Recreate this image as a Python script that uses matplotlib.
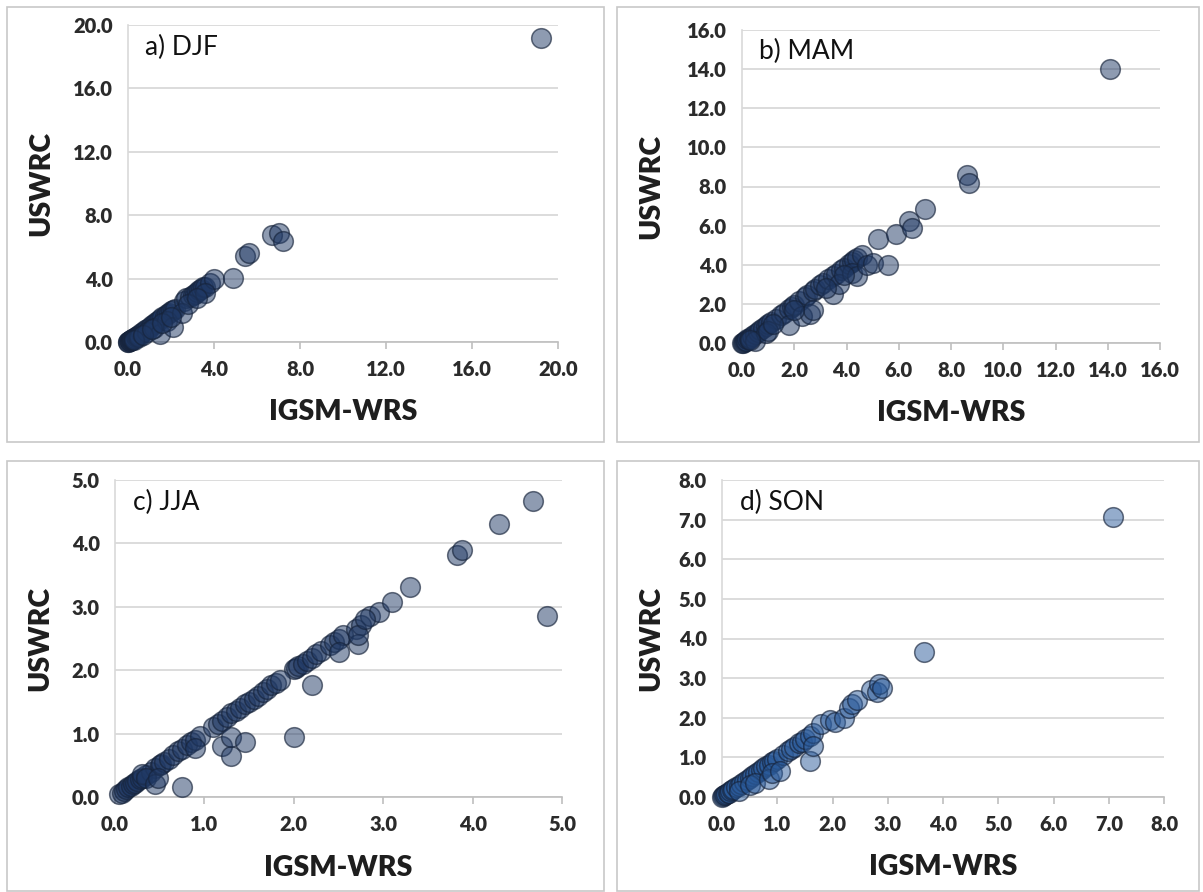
import numpy as np
import matplotlib
matplotlib.use("Agg")
import matplotlib.pyplot as plt
from matplotlib.patches import Rectangle
from matplotlib.ticker import FormatStrFormatter

plt.rcParams['font.family'] = ['Lato', 'DejaVu Sans']

# ---- data (IGSM-WRS vs USWRC) ----
djf_igsm = [0.0, 0.02, 0.05, 0.08, 0.1, 0.12, 0.15, 0.18, 0.2, 0.25, 0.3, 0.35, 0.4, 0.45, 0.5,
            0.6, 0.7, 0.8, 0.9, 1.0, 1.1, 1.2, 1.3, 1.4, 1.5, 1.6, 1.7, 1.8, 1.9, 2.0,
            2.1, 2.2, 2.6, 2.7, 2.9, 3.0, 3.1, 3.2, 3.3, 3.4, 3.5, 3.6, 3.8, 4.0,
            0.5, 0.9, 1.2, 1.5, 1.8, 2.1, 2.5, 3.6, 4.9, 5.45, 5.65, 6.7, 7.0, 7.2, 19.2,
            0.3, 0.7, 1.1, 1.6, 2.0, 2.8, 3.2]
djf_uswrc = [0.0, 0.01, 0.04, 0.06, 0.09, 0.1, 0.13, 0.15, 0.18, 0.22, 0.27, 0.3, 0.36, 0.4, 0.45,
             0.55, 0.65, 0.75, 0.85, 0.95, 1.05, 1.15, 1.25, 1.35, 1.45, 1.55, 1.65, 1.75, 1.85, 1.95,
             2.05, 2.1, 2.6, 2.75, 2.85, 2.95, 3.05, 3.15, 3.25, 3.35, 3.45, 3.5, 3.75, 3.95,
             0.3, 0.6, 0.9, 0.5, 1.3, 0.95, 1.8, 3.1, 4.05, 5.4, 5.6, 6.75, 6.9, 6.35, 19.2,
             0.15, 0.45, 0.8, 1.2, 1.55, 2.4, 2.8]

mam_igsm = [0.0, 0.03, 0.06, 0.1, 0.15, 0.2, 0.25, 0.3, 0.4, 0.5, 0.6, 0.7, 0.8, 0.9, 1.0,
            1.1, 1.3, 1.5, 1.6, 1.8, 1.9, 2.0, 2.2, 2.4, 2.5, 2.7, 2.8, 3.0, 3.1, 3.3,
            3.5, 3.6, 3.8, 3.9, 4.1, 4.2, 4.3, 4.4, 4.6,
            0.5, 0.9, 1.0, 1.8, 2.3, 2.6, 2.7, 3.5, 3.7, 4.2, 4.4, 4.8, 5.0, 5.2, 5.6,
            5.9, 6.4, 6.5, 7.0, 8.6, 8.7, 14.1,
            0.3, 1.2, 2.0, 3.2, 3.9]
mam_uswrc = [0.0, 0.02, 0.05, 0.08, 0.12, 0.18, 0.22, 0.28, 0.37, 0.47, 0.57, 0.66, 0.76, 0.86, 0.96,
             1.05, 1.25, 1.45, 1.55, 1.75, 1.85, 1.95, 2.15, 2.35, 2.45, 2.65, 2.75, 2.95, 3.05, 3.25,
             3.45, 3.55, 3.75, 3.85, 4.05, 4.15, 4.25, 4.35, 4.5,
             0.1, 0.5, 0.6, 0.9, 1.4, 1.5, 1.7, 2.5, 3.0, 3.6, 3.4, 4.0, 4.1, 5.3, 4.0,
             5.55, 6.25, 5.9, 6.85, 8.6, 8.2, 14.0,
             0.15, 0.95, 1.7, 2.8, 3.5]

jja_igsm = [0.05, 0.08, 0.1, 0.12, 0.15, 0.18, 0.2, 0.22, 0.25, 0.28, 0.3, 0.35, 0.4, 0.45, 0.5,
            0.52, 0.55, 0.6, 0.65, 0.7, 0.75, 0.8, 0.85, 0.9, 0.95, 1.1, 1.15, 1.2, 1.25, 1.3,
            1.35, 1.4, 1.45, 1.5, 1.55, 1.6, 1.65, 1.7, 1.75, 1.8, 2.0, 2.02, 2.05, 2.1, 2.15,
            2.2, 2.25, 2.3, 2.4, 2.45, 2.5, 2.55, 2.7, 2.75, 2.85, 2.95, 3.1, 3.3, 3.82, 3.88,
            4.3, 4.68,
            0.3, 0.35, 0.45, 0.48, 0.75, 0.9, 1.2, 1.3, 1.3, 1.45, 2.0, 2.2, 1.85, 2.5,
            2.72, 2.72, 2.8, 4.83]
jja_uswrc = [0.05, 0.07, 0.1, 0.12, 0.15, 0.17, 0.2, 0.22, 0.25, 0.28, 0.3, 0.35, 0.4, 0.45, 0.5,
             0.52, 0.55, 0.6, 0.66, 0.72, 0.76, 0.82, 0.86, 0.9, 0.96, 1.1, 1.15, 1.2, 1.26, 1.32,
             1.36, 1.41, 1.46, 1.5, 1.55, 1.6, 1.65, 1.7, 1.76, 1.8, 2.02, 2.04, 2.06, 2.1, 2.15,
             2.2, 2.25, 2.3, 2.4, 2.45, 2.5, 2.55, 2.65, 2.72, 2.85, 2.92, 3.08, 3.32, 3.82, 3.9,
             4.3, 4.67,
             0.36, 0.3, 0.2, 0.3, 0.15, 0.78, 0.8, 0.65, 0.95, 0.87, 0.95, 1.77, 1.85, 2.28,
             2.42, 2.55, 2.8, 2.85]

son_igsm = [0.0, 0.02, 0.04, 0.06, 0.08, 0.1, 0.12, 0.15, 0.18, 0.2, 0.25, 0.3, 0.35, 0.4, 0.45,
            0.5, 0.55, 0.6, 0.65, 0.7, 0.75, 0.8, 0.85, 0.9, 0.95, 1.0, 1.1, 1.2, 1.25, 1.3,
            1.4, 1.45, 1.5, 1.6, 1.65,
            0.3, 0.5, 0.6, 0.85, 0.9, 1.05, 1.6, 1.65, 1.8, 1.95, 2.05, 2.2, 2.3, 2.35, 2.45,
            2.7, 2.8, 2.85, 2.9, 3.65, 7.08]
son_uswrc = [0.0, 0.02, 0.04, 0.06, 0.08, 0.09, 0.11, 0.14, 0.17, 0.19, 0.24, 0.29, 0.33, 0.38, 0.43,
             0.48, 0.53, 0.58, 0.62, 0.68, 0.72, 0.78, 0.82, 0.88, 0.92, 0.97, 1.06, 1.17, 1.21, 1.26,
             1.36, 1.4, 1.46, 1.55, 1.62,
             0.15, 0.3, 0.35, 0.45, 0.6, 0.65, 0.9, 1.28, 1.85, 1.95, 1.9, 2.0, 2.25, 2.35, 2.45,
             2.7, 2.65, 2.85, 2.75, 3.65, 7.07]

panels = [
    # label, x, y, max, step, axes box px (left, right, top, bottom), face colour
    ("a) DJF", djf_igsm, djf_uswrc, 20, 4, (128, 558, 25, 342), '#1f3864'),
    ("b) MAM", mam_igsm, mam_uswrc, 16, 2, (742, 1160, 30, 343), '#1f3864'),
    ("c) JJA", jja_igsm, jja_uswrc, 5, 1, (115, 562, 480, 797), '#1f3864'),
    ("d) SON", son_igsm, son_uswrc, 8, 1, (722, 1164, 480, 797), '#2a5a9a'),
]
frames = [(7, 604, 7, 442), (617, 1199, 7, 442), (7, 604, 461, 891), (617, 1199, 461, 891)]
ylab_x = [54, 664, 53, 664]   # right edge of the rotated y label
xlab_y = [399, 400, 855, 854]  # top of the x label

W, H = 1203, 892
fig = plt.figure(figsize=(W / 100, H / 100), dpi=100)
fig.patch.set_facecolor('white')

for (l, r, t, b) in frames:
    fig.add_artist(Rectangle((l / W, 1 - b / H), (r - l) / W, (b - t) / H,
                             transform=fig.transFigure, fill=False,
                             edgecolor='#c8c8c8', linewidth=1.2))

for i, (name, xs, ys, vmax, step, (l, r, t, b), fc) in enumerate(panels):
    ax = fig.add_axes([l / W, 1 - b / H, (r - l) / W, (b - t) / H])
    face = matplotlib.colors.to_rgba(fc, 0.5)
    edge = matplotlib.colors.to_rgba('#16233a', 0.65)
    ax.scatter(xs, ys, s=200, facecolors=[face], edgecolors=[edge],
               linewidths=1.1, clip_on=False, zorder=3)
    ticks = np.arange(0, vmax + step / 2, step)
    ax.set_xlim(0, vmax)
    ax.set_ylim(0, vmax)
    ax.set_xticks(ticks)
    ax.set_yticks(ticks)
    ax.xaxis.set_major_formatter(FormatStrFormatter('%.1f'))
    ax.yaxis.set_major_formatter(FormatStrFormatter('%.1f'))
    ax.grid(axis='y', color='#d9d9d9', linewidth=1.3, zorder=0)
    ax.set_axisbelow(True)
    for s in ['top', 'right']:
        ax.spines[s].set_visible(False)
    ax.spines['left'].set_color('#d9d9d9')
    ax.spines['bottom'].set_color('#bfbfbf')
    ax.spines['left'].set_linewidth(1.2)
    ax.spines['bottom'].set_linewidth(1.2)
    ax.tick_params(axis='x', length=5, width=1.2, color='#bfbfbf', pad=8,
                   labelsize=14.5, labelcolor='#2b2b2b')
    ax.tick_params(axis='y', length=0, pad=11, labelsize=14.5, labelcolor='#2b2b2b')
    for lab in ax.get_xticklabels() + ax.get_yticklabels():
        lab.set_fontweight('heavy')

    ax.text(0.04, 0.93, name, transform=ax.transAxes,
            fontsize=19, color='#111111', va='center', ha='left')

    ax.set_xlabel('IGSM-WRS', fontsize=20.5, fontweight='heavy', color='#1e1e1e')
    ax.set_ylabel('USWRC', fontsize=20.5, fontweight='heavy', color='#1e1e1e')
    ax.xaxis.set_label_coords(0.5, (b - xlab_y[i]) / (b - t))
    ax.yaxis.set_label_coords((ylab_x[i] - l) / (r - l), 0.5)

fig.savefig('out.png', dpi=100, facecolor='white')
